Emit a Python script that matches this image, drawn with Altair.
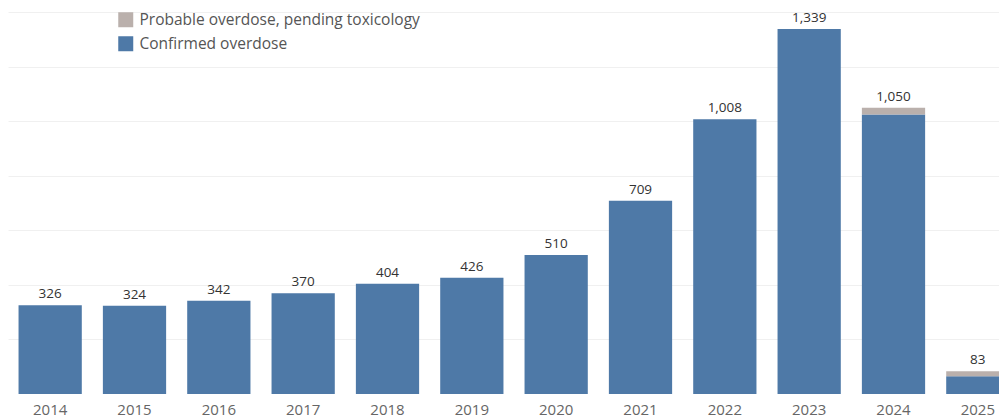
import altair as alt
import pandas as pd

years = ["2014", "2015", "2016", "2017", "2018", "2019", "2020", "2021", "2022", "2023", "2024", "2025"]
confirmed = [326, 324, 342, 370, 404, 426, 510, 709, 1008, 1339, 1025, 65]
probable = [0, 0, 0, 0, 0, 0, 0, 0, 0, 0, 25, 18]
totals = [326, 324, 342, 370, 404, 426, 510, 709, 1008, 1339, 1050, 83]

cat_conf = "Confirmed overdose"
cat_prob = "Probable overdose, pending toxicology"

rows = []
for y, c, p in zip(years, confirmed, probable):
    rows.append({"year": y, "status": cat_conf, "count": c, "ord": 0})
    rows.append({"year": y, "status": cat_prob, "count": p, "ord": 1})
df = pd.DataFrame(rows)
tot = pd.DataFrame({"year": years, "total": totals})

FONT = "Open Sans"

xscale = alt.Scale(paddingInner=0.25, paddingOuter=0.125, range=[0, 1012])
yscale = alt.Scale(domain=[0, 1416], nice=False)

bars = alt.Chart(df).mark_bar().encode(
    x=alt.X("year:N", sort=years, title=None, scale=xscale,
            axis=alt.Axis(labelAngle=0, labelFontSize=15, labelColor="#666666", labelFont=FONT,
                          domain=False, ticks=False, labelPadding=8, grid=False)),
    y=alt.Y("count:Q", stack="zero", title=None, scale=yscale,
            axis=alt.Axis(values=[200, 400, 600, 800, 1000, 1200, 1400], labels=False, ticks=False,
                          domain=False, grid=True, gridColor="#f0f0f0", gridWidth=1)),
    color=alt.Color("status:N",
                    scale=alt.Scale(domain=[cat_prob, cat_conf], range=["#bab0ac", "#4e79a7"]),
                    legend=alt.Legend(title=None, orient="none", legendX=110, legendY=4,
                                      symbolType="square", symbolSize=225, symbolStrokeWidth=0,
                                      labelFontSize=15.5, labelColor="#555555", labelFont=FONT,
                                      labelLimit=0, rowPadding=7, symbolOffset=0, labelOffset=6)),
    order=alt.Order("ord:Q"),
)

labels = alt.Chart(tot).mark_text(baseline="bottom", dy=-4, fontSize=13.5, color="#333333", font=FONT).encode(
    x=alt.X("year:N", sort=years, scale=xscale),
    y=alt.Y("total:Q", scale=yscale),
    text=alt.Text("total:Q", format=",")
)

chart = alt.layer(bars, labels).properties(
    width=991, height=386, background="white",
    padding={"left": 0, "top": 0, "right": 0, "bottom": 24},
    autosize=alt.AutoSizeParams(type="none"),
).configure_axis(
    domain=False, ticks=False, title=None
).configure_view(stroke=None)

chart.save("out.html", embed_options={"renderer": "svg", "actions": False})
